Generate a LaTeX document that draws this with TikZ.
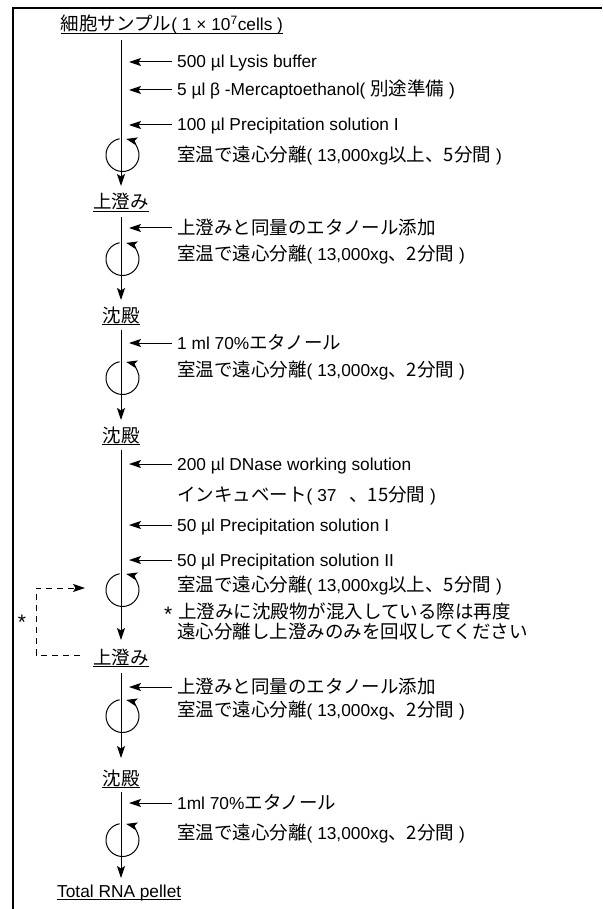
\documentclass[tikz,border=0pt]{standalone}
\usepackage{fontspec}
\setmainfont{Liberation Sans}
\newfontfamily\jp{Noto Sans CJK JP}
\usetikzlibrary{arrows.meta}
\newcommand{\J}[1]{{\jp\fontsize{18.5}{20}\selectfont #1}}
\newcommand{\myast}{\raisebox{-3.5pt}{\fontsize{21}{21}\selectfont *}}
\begin{document}
\begin{tikzpicture}[x=1pt,y=1pt,
  lbl/.style={inner sep=0pt, anchor=base west, font=\fontsize{17.3}{20}\selectfont},
  stage/.style={inner sep=0pt, anchor=base, font=\fontsize{17.3}{20}\selectfont},
  flow/.style={line width=1pt, -{Stealth[length=12pt,width=8pt,inset=2.5pt]}},
  feed/.style={line width=1pt, -{Stealth[length=12pt,width=8pt,inset=2.5pt]}},
  spin/.style={line width=1pt, -{Stealth[length=11pt,width=8pt,inset=2.5pt]}},
  uline/.style={line width=1pt},
  loop/.style={line width=1pt, dash pattern=on 6pt off 5pt, -{Stealth[length=12pt,width=8pt,inset=2.5pt]}},
  frame/.style={line width=1.5pt}]
\useasboundingbox (0,0) rectangle (602,-909);
\draw[frame] (13,-909) -- (13,-8) -- (602,-8);

% stage labels
\node[stage] (title) at (172,-31) {\J{細胞サンプル}( 1 × 10\textsuperscript{7}cells )};
\node[stage] (s1) at (121,-209) {\J{上澄み}};
\node[stage] (p1) at (121,-322) {\J{沈殿}};
\node[stage] (p2) at (121,-442) {\J{沈殿}};
\node[stage] (s2) at (121,-664) {\J{上澄み}};
\node[stage] (p3) at (121,-785) {\J{沈殿}};
\node[lbl] (rna) at (57,-897) {Total RNA pellet};
\foreach \n in {title,s1,p1,p2,s2,p3,rna}
  \draw[uline] ([yshift=-2.5pt]\n.base west) -- ([yshift=-2.5pt]\n.base east);

% main flow
\coordinate (top) at (121,-40);
\draw[flow] (top) -- ([yshift=23pt]s1.base);
\draw[flow] ([yshift=-8pt]s1.base) -- ([yshift=22pt]p1.base);
\draw[flow] ([yshift=-8pt]p1.base) -- ([yshift=22pt]p2.base);
\draw[flow] ([yshift=-8pt]p2.base) -- ([yshift=24pt]s2.base);
\draw[flow] ([yshift=-9pt]s2.base) -- ([yshift=27pt]p3.base);
\draw[flow] ([yshift=-7pt]p3.base) -- ([shift={(64pt,19pt)}]rna.base west);

% step texts
\node[lbl] (a1) at (177,-68) {500 µl Lysis buffer};
\node[lbl] (a2) at (177,-96) {5 µl β -Mercaptoethanol( \J{別途準備} )};
\node[lbl] (a3) at (177,-131) {100 µl Precipitation solution I};
\node[lbl] (r1) at (177,-162) {\J{室温で遠心分離}( 13,000xg\J{以上、5分間} )};
\node[lbl] (a4) at (177,-234) {\J{上澄みと同量のエタノール添加}};
\node[lbl] (r2) at (177,-260) {\J{室温で遠心分離}( 13,000xg\J{、2分間} )};
\node[lbl] (a5) at (177,-349) {1 ml 70\%\J{エタノール}};
\node[lbl] (r3) at (177,-376) {\J{室温で遠心分離}( 13,000xg\J{、2分間} )};
\node[lbl] (a6) at (177,-470) {200 µl DNase working solution};
\node[lbl] (r4) at (177,-501) {\J{インキュベート}( 37 \hspace{8pt}\J{、15分間} )};
\node[lbl] (a7) at (177,-531) {50 µl Precipitation solution I};
\node[lbl] (a8) at (177,-566) {50 µl Precipitation solution II};
\node[lbl] (r5) at (177,-591) {\J{室温で遠心分離}( 13,000xg\J{以上、5分間} )};
\node[lbl] (n1) at (164,-618) {\myast\hspace{6pt}\J{上澄みに沈殿物が混入している際は再度}};
\node[lbl] (n2) at (177,-638) {\J{遠心分離し上澄みのみを回収してください}};
\node[lbl] (a9) at (177,-693) {\J{上澄みと同量のエタノール添加}};
\node[lbl] (r6) at (177,-716) {\J{室温で遠心分離}( 13,000xg\J{、2分間} )};
\node[lbl] (a10) at (177,-809) {1ml 70\%\J{エタノール}};
\node[lbl] (r7) at (177,-839) {\J{室温で遠心分離}( 13,000xg\J{、2分間} )};

% feed arrows
\foreach \n in {a1,a2,a3,a4,a5,a6,a7,a8,a9,a10}
  \draw[feed] ([shift={(-5pt,6pt)}]\n.base west) -- ++(-43,0);

% centrifuge symbols
\foreach \c/\y in {c1/155,c2/259,c3/378,c4/590,c5/716,c6/840}{
  \coordinate (\c) at (122.5,-\y);
  \draw[spin] (\c) ++(100:16.5) arc[start angle=100,end angle=437,radius=16.5];
}

% re-centrifuge loop
\coordinate (loopin) at (85,-588);
\draw[loop] ([shift={(-13pt,9pt)}]s2.base west) -| (36,-588) -- (loopin);
\node[lbl, anchor=center] (star) at (22,-622) {\myast};
\end{tikzpicture}
\end{document}
